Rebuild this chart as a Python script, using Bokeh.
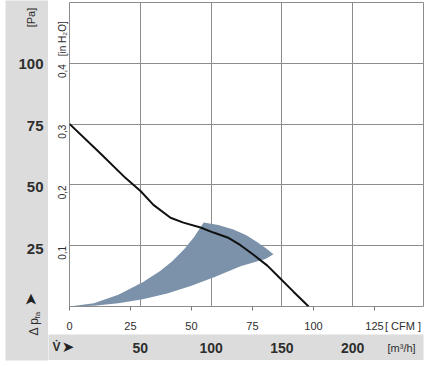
import math
from bokeh.plotting import figure
from bokeh.layouts import row, column
from bokeh.models import Range1d, LinearAxis, FixedTicker
from bokeh.core.properties import value
from bokeh.embed import file_html
from bokeh.resources import INLINE

# ---- data ----
curve_cfm = [0, 12.7, 23.0, 29.1, 34.4, 41.4, 46.7, 53.7, 59.0, 64.8, 70.1, 75.4, 81.1, 86.5, 91.8, 98.0]
curve_pa = [75.1, 62.9, 52.8, 47.5, 41.8, 36.5, 34.5, 32.5, 30.4, 28.4, 25.2, 21.3, 16.8, 11.4, 6.1, 0.0]

range_upper_cfm = [0, 10, 20, 30, 37, 42, 47, 51, 55]
range_upper_pa = [0, 1.3, 4.8, 10.0, 14.5, 18.5, 23.5, 28.5, 34.5]
range_arc_cfm = [61, 67.2, 72.5, 77.0, 80.5, 83.6]
range_arc_pa = [33.5, 31.7, 29.3, 26.4, 24.0, 21.5]
range_lower_cfm = [80.3, 75, 70.1, 60, 50, 40, 30, 20, 10, 0]
range_lower_pa = [19.5, 18.0, 16.5, 12.3, 8.5, 5.3, 3.0, 1.3, 0.3, 0.0]

pa_ticks = [25, 50, 75, 100]
pa_labels = ["25", "50", "75", "100"]
inh2o_ticks = [0.1, 0.2, 0.3, 0.4]
inh2o_labels = ["0,1", "0,2", "0,3", "0,4"]
cfm_ticks = [0, 25, 50, 75, 100, 125]
m3h_ticks = [50, 100, 150, 200]
m3h_labels = ["50", "100", "150", "200"]

PA_MAX = 125
M3H_MAX = 250
CFM_MAX = 145.1
PA_PER_INH2O = 249.089

FONT = "Liberation Sans"
GRAY_BAND = "#dcdcdc"
GRID = "#8c8c8c"
TXT = "#2e2e2e"

BAND_RIGHT = 48   # right edge of the left gray band (page px)

# pixel helpers for the page (main frame spans x 69..423, y 2..310)
def xm(px):
    return (px - 69) * M3H_MAX / 354.0

def yp(py):
    return (310 - py) * PA_MAX / 308.0

# ================= main chart =================
p = figure(width=432 - BAND_RIGHT, height=334, x_range=Range1d(0, M3H_MAX), y_range=Range1d(0, PA_MAX),
           output_backend="svg", toolbar_location=None,
           x_axis_location=None, y_axis_location=None,
           min_border_left=69 - BAND_RIGHT, min_border_right=9, min_border_top=2, min_border_bottom=24,
           background_fill_color="white", border_fill_color="white",
           outline_line_color=GRID, outline_line_width=1)
p.extra_x_ranges = {"cfm": Range1d(0, CFM_MAX)}
p.extra_y_ranges = {"inh2o": Range1d(0, PA_MAX / PA_PER_INH2O)}

p.xgrid.ticker = FixedTicker(ticks=m3h_ticks)
p.ygrid.ticker = FixedTicker(ticks=pa_ticks)
for g in (p.xgrid, p.ygrid):
    g.grid_line_color = GRID
    g.grid_line_width = 1

def plain_axis(ax):
    ax.axis_line_color = None
    ax.major_tick_line_color = None
    ax.minor_tick_line_color = None
    ax.major_tick_in = 0
    ax.major_tick_out = 0
    ax.minor_tick_in = 0
    ax.minor_tick_out = 0
    ax.major_label_text_color = TXT
    ax.major_label_text_font = FONT

inh2o_unit_pos = (PA_MAX / 308.0) * (310 - 21) / PA_PER_INH2O
ax_inh2o = LinearAxis(y_range_name="inh2o",
                      ticker=FixedTicker(ticks=inh2o_ticks + [inh2o_unit_pos]),
                      major_label_overrides=dict(zip(inh2o_ticks + [inh2o_unit_pos],
                                                     inh2o_labels + ["[in H\u2082O]"])))
plain_axis(ax_inh2o)
ax_inh2o.major_label_orientation = math.pi / 2
ax_inh2o.major_label_standoff = 7
ax_inh2o.major_label_text_font_size = "10px"
p.add_layout(ax_inh2o, "left")

cfm_unit_pos = (402.5 - 69) * CFM_MAX / 354.0
ax_cfm = LinearAxis(x_range_name="cfm",
                    ticker=FixedTicker(ticks=cfm_ticks + [cfm_unit_pos], minor_ticks=cfm_ticks),
                    major_label_overrides={cfm_unit_pos: "[ CFM ]"})
plain_axis(ax_cfm)
ax_cfm.minor_tick_line_color = "#777777"
ax_cfm.minor_tick_out = 4
ax_cfm.major_label_standoff = 9
ax_cfm.major_label_text_font_size = "11px"
p.add_layout(ax_cfm, "below")

patch_x = range_upper_cfm + range_arc_cfm + range_lower_cfm
patch_y = range_upper_pa + range_arc_pa + range_lower_pa
p.patch(patch_x, patch_y, x_range_name="cfm", fill_color="#7b92aa", line_color=None)
p.line(curve_cfm, curve_pa, x_range_name="cfm", line_color="#111111", line_width=2)

# ================= left gray band (Pa scale) =================
left = figure(width=BAND_RIGHT, height=366, x_range=Range1d(0, BAND_RIGHT - 5), y_range=Range1d(yp(360), yp(0)),
              output_backend="svg", toolbar_location=None,
              x_axis_location=None, y_axis_location=None,
              min_border_left=5, min_border_right=0, min_border_top=0, min_border_bottom=6,
              background_fill_color=GRAY_BAND, border_fill_color="white",
              outline_line_color=None)
left.xgrid.visible = False
left.ygrid.visible = False
left.text(x=[38] * len(pa_ticks), y=pa_ticks, text=pa_labels,
          text_align="right", text_baseline="middle", text_color=TXT,
          text_font=value(FONT), text_font_style="bold", text_font_size="15px")
left.text(x=[25], y=[yp(17)], text=["[Pa]"], angle=math.pi / 2,
          text_align="center", text_baseline="middle", text_color=TXT,
          text_font=value(FONT), text_font_size="11px")
left.text(x=[28], y=[yp(335)], text=["\u0394 p"], angle=math.pi / 2,
          text_align="left", text_baseline="alphabetic", text_color=TXT,
          text_font=value(FONT), text_font_size="12px")
left.text(x=[32], y=[yp(318)], text=["fa"], angle=math.pi / 2,
          text_align="left", text_baseline="alphabetic", text_color=TXT,
          text_font=value(FONT), text_font_size="8px")
left.text(x=[25], y=[yp(299)], text=["\u27a4"], angle=math.pi / 2,
          text_align="center", text_baseline="middle", text_color="#222222",
          text_font=value("DejaVu Sans"), text_font_size="16px")

# ================= bottom gray band (m3/h scale) =================
bottom = figure(width=432 - BAND_RIGHT, height=26, x_range=Range1d(xm(BAND_RIGHT), M3H_MAX), y_range=Range1d(0, 26),
                output_backend="svg", toolbar_location=None,
                x_axis_location=None, y_axis_location=None,
                min_border_left=0, min_border_right=9, min_border_top=0, min_border_bottom=0,
                background_fill_color=GRAY_BAND, border_fill_color="white",
                outline_line_color=None)
bottom.xgrid.visible = False
bottom.ygrid.visible = False
bottom.text(x=m3h_ticks, y=[13] * len(m3h_ticks), text=m3h_labels,
            text_align="center", text_baseline="middle", text_color=TXT,
            text_font=value(FONT), text_font_style="bold", text_font_size="14px")
bottom.text(x=[xm(56)], y=[14], text=["V\u0307"],
            text_align="center", text_baseline="middle", text_color=TXT,
            text_font=value(FONT), text_font_style="bold", text_font_size="12px")
bottom.text(x=[xm(67.5)], y=[13.5], text=["\u27a4"],
            text_align="center", text_baseline="middle", text_color="#222222",
            text_font=value("DejaVu Sans"), text_font_size="15px")
bottom.text(x=[xm(387)], y=[13], text=["[m\u00b3/h]"],
            text_align="left", text_baseline="middle", text_color=TXT,
            text_font=value(FONT), text_font_size="11px")

layout = row(left, column(p, row(bottom, spacing=0), spacing=0), spacing=0)

open("out.html", "w").write(file_html(layout, INLINE))
